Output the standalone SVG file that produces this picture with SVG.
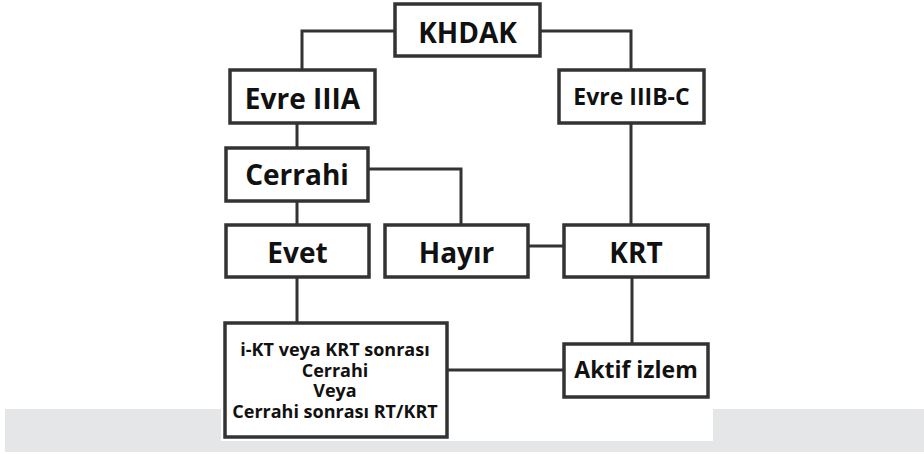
<svg xmlns="http://www.w3.org/2000/svg" width="924" height="454" viewBox="0 0 924 454">
<style>
.box{fill:#fff;stroke:#333;stroke-width:3.5}
.ln{fill:none;stroke:#333;stroke-width:3}
text{font-family:"Open Sans",Lato,"Liberation Sans",sans-serif;font-weight:bold;fill:#111;text-anchor:middle}
.big{font-size:28px}
.mid{font-size:23px}
.sm{font-size:18px}
</style>
<rect x="0" y="0" width="924" height="454" fill="#fff"/>
<rect x="5" y="409" width="919" height="43" fill="#e5e6e8"/>
<rect x="221" y="400" width="492" height="41" fill="#fff"/>
<g id="connectors">
<polyline class="ln" points="395,31 302,31 302,70"/>
<polyline class="ln" points="540,31 631,31 631,70"/>
<line class="ln" x1="297" y1="123" x2="297" y2="148"/>
<line class="ln" x1="631" y1="123" x2="631" y2="225"/>
<polyline class="ln" points="368,169 461,169 461,225"/>
<line class="ln" x1="297" y1="201" x2="297" y2="225"/>
<line class="ln" x1="528" y1="246" x2="564" y2="246"/>
<line class="ln" x1="297" y1="277" x2="297" y2="323"/>
<line class="ln" x1="632" y1="277" x2="632" y2="344"/>
<line class="ln" x1="447" y1="370" x2="564" y2="370"/>
</g>
<g id="khdak"><rect class="box" x="395" y="4" width="145" height="52"/><text class="big" x="467.5" y="43">KHDAK</text></g>
<g id="evre3a"><rect class="box" x="230" y="70" width="145" height="53"/><text class="big" x="302.5" y="109">Evre IIIA</text></g>
<g id="evre3bc"><rect class="box" x="559" y="70" width="145" height="53"/><text class="mid" x="631.5" y="105">Evre IIIB-C</text></g>
<g id="cerrahi"><rect class="box" x="226" y="148" width="142" height="53"/><text class="big" x="297" y="185">Cerrahi</text></g>
<g id="evet"><rect class="box" x="226" y="225" width="143" height="52"/><text class="big" x="297.5" y="263">Evet</text></g>
<g id="hayir"><rect class="box" x="385" y="225" width="143" height="52"/><text class="big" x="456.5" y="263">Hayır</text></g>
<g id="krt"><rect class="box" x="564" y="225" width="144" height="52"/><text class="big" x="636" y="263">KRT</text></g>
<g id="tedavi"><rect class="box" x="225" y="323" width="222" height="114"/>
<text class="sm" x="335" y="356">i-KT veya KRT sonrası</text>
<text class="sm" x="335" y="377">Cerrahi</text>
<text class="sm" x="335" y="397">Veya</text>
<text class="sm" x="335" y="418">Cerrahi sonrası RT/KRT</text></g>
<g id="aktif"><rect class="box" x="564" y="344" width="144" height="53"/><text class="mid" x="636" y="378">Aktif izlem</text></g>
</svg>
